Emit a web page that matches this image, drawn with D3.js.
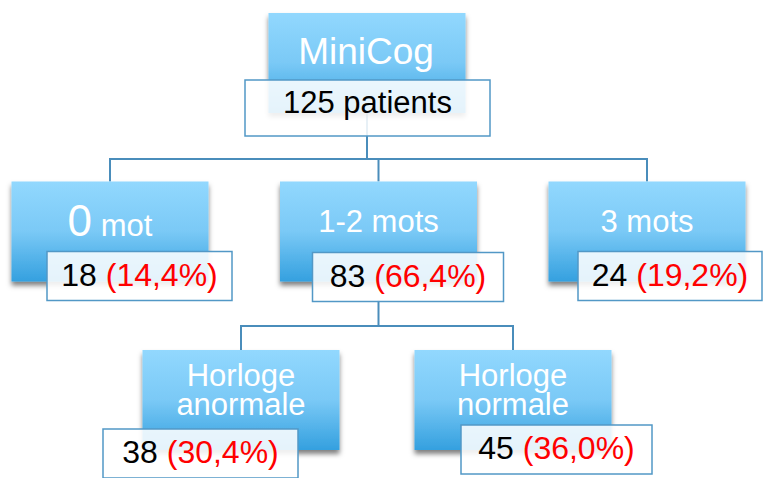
<!DOCTYPE html>
<html>
<head>
<meta charset="utf-8">
<script src="https://cdn.jsdelivr.net/npm/d3@7"></script>
<style>
  body { margin: 0; background: #fff; }
  svg { display: block; font-family: "Liberation Sans", Arial, Helvetica, sans-serif; }
</style>
</head>
<body>
<div id="tree"></div>
<script>
// data
const rootLabel = "MiniCog";
const rootCount = "125 patients";
const level1Labels = ["0 mot", "1-2 mots", "3 mots"];
const level1Counts = [18, 83, 24];
const level1Pcts = ["14,4%", "66,4%", "19,2%"];
const level2Labels = [["Horloge", "anormale"], ["Horloge", "normale"]];
const level2Counts = [38, 45];
const level2Pcts = ["30,4%", "36,0%"];
const level2Parent = "1-2 mots";

const width = 763, height = 478;
const lineColor = "#4a8dbb";

let svg = d3.select('#tree').append('svg')
  .attr('width', width)
  .attr('height', height);

let defs = svg.append('defs');
let grad = defs.append('linearGradient')
  .attr('id', 'blue').attr('x1', 0).attr('y1', 0).attr('x2', 0).attr('y2', 1);
grad.append('stop').attr('offset', '0%').attr('stop-color', '#92d8fe');
grad.append('stop').attr('offset', '50%').attr('stop-color', '#7ac9f6');
grad.append('stop').attr('offset', '100%').attr('stop-color', '#34a0df');
let shadow = defs.append('filter').attr('id', 'shadow')
  .attr('x', '-10%').attr('y', '-10%').attr('width', '120%').attr('height', '130%');
shadow.append('feDropShadow')
  .attr('dx', 0).attr('dy', 4).attr('stdDeviation', 2.5)
  .attr('flood-color', '#000').attr('flood-opacity', 0.5);

// scales: x per level, y per level
let x0 = 367;
let x1 = d3.scalePoint().domain(level1Labels).range([110, 647]);
let x2 = d3.scalePoint().domain(level2Labels.map(d => d.join(' '))).range([241, 513]);
let yTop = d3.scalePoint().domain([0, 1, 2]).range([13, 350]); // blue box tops

const blueW = 197, blueH = 100;

// white box offsets relative to blue box center / top (layout only)
let whiteBox = {
  root:   {dx: -122, dy: 67, w: 245, h: 56},
  l1: [{dx: -63, dy: 70, w: 185}, {dx: -66, dy: 71, w: 191}, {dx: -69, dy: 70, w: 184}],
  l2: [{dx: -138, dy: 79, w: 195}, {dx: -52, dy: 75, w: 191}]
};

// connectors
let g = svg.append('g').attr('fill', 'none').attr('stroke', lineColor).attr('stroke-width', 2);
let busY1 = 159, busY2 = 326;
let parentX = x1(level2Parent);
g.append('path').attr('d', `M${x0},${yTop(0) + blueH}V${busY1}`);
g.append('path').attr('d', `M${x1(level1Labels[0])},${yTop(1)}V${busY1}H${x1(level1Labels[2])}V${yTop(1)}`);
g.append('path').attr('d', `M${parentX},${busY1}V${yTop(1)}`);
g.append('path').attr('d', `M${parentX},${yTop(1) + 119}V${busY2}`);
let l2x = level2Labels.map(d => x2(d.join(' ')));
g.append('path').attr('d', `M${l2x[0]},${yTop(2)}V${busY2}H${l2x[1]}V${yTop(2)}`);

function blueBox(cx, top) {
  svg.append('rect')
    .attr('x', cx - blueW / 2).attr('y', top)
    .attr('width', blueW).attr('height', blueH)
    .attr('fill', 'url(#blue)')
    .attr('filter', 'url(#shadow)');
}
function countBox(cx, top, b, count, pct, size) {
  svg.append('rect')
    .attr('x', cx + b.dx).attr('y', top + b.dy)
    .attr('width', b.w).attr('height', b.h || 49)
    .attr('fill', '#fff').attr('fill-opacity', 0.87)
    .attr('stroke', '#5298c6').attr('stroke-width', 1.5);
  let t = svg.append('text')
    .attr('x', cx + b.dx + b.w / 2).attr('y', top + b.dy + (b.h ? 33 : 34))
    .attr('text-anchor', 'middle')
    .attr('font-size', size);
  t.append('tspan').attr('fill', '#000').text(count);
  if (pct) t.append('tspan').attr('fill', '#ff0000').text(' (' + pct + ')');
}

// root
blueBox(x0, yTop(0));
svg.append('text').attr('x', x0 - 1).attr('y', 64)
  .attr('text-anchor', 'middle').attr('fill', '#fff').attr('font-size', 37)
  .text(rootLabel);

// level 1
level1Labels.forEach((lab, i) => {
  let cx = x1(lab);
  blueBox(cx, yTop(1));
  let t = svg.append('text').attr('x', cx).attr('y', yTop(1) + (i === 0 ? 54 : 50))
    .attr('text-anchor', 'middle').attr('fill', '#fff').attr('font-size', 31);
  let m = lab.match(/^(\d+)( mot)$/);
  if (m) {
    t.append('tspan').attr('font-size', 44).text(m[1]);
    t.append('tspan').attr('font-size', 31).text(m[2]);
  } else {
    t.text(lab);
  }
});

// level 2
level2Labels.forEach((lines, i) => {
  let cx = l2x[i];
  blueBox(cx, yTop(2));
  let t = svg.append('text').attr('text-anchor', 'middle').attr('fill', '#fff').attr('font-size', 31);
  lines.forEach((ln, j) => {
    t.append('tspan').attr('x', cx).attr('y', yTop(2) + 36 + j * 29).text(ln);
  });
});

// count boxes on top
countBox(x0, yTop(0), whiteBox.root, rootCount, null, 31);
level1Labels.forEach((lab, i) => {
  countBox(x1(lab), yTop(1), whiteBox.l1[i], level1Counts[i], level1Pcts[i], 32);
});
level2Labels.forEach((lines, i) => {
  countBox(l2x[i], yTop(2), whiteBox.l2[i], level2Counts[i], level2Pcts[i], 32);
});
</script>
</body>
</html>
